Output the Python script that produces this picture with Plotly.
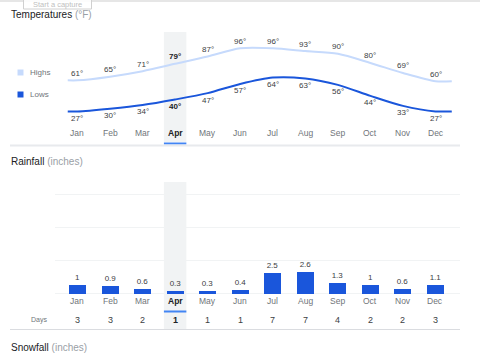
import plotly.graph_objects as go

months = ["Jan", "Feb", "Mar", "Apr", "May", "Jun", "Jul", "Aug", "Sep", "Oct", "Nov", "Dec"]
highs = [61, 65, 71, 79, 87, 96, 96, 93, 90, 80, 69, 60]
lows = [27, 30, 34, 40, 47, 57, 64, 63, 56, 44, 33, 27]
rain = [1, 0.9, 0.6, 0.3, 0.3, 0.4, 2.5, 2.6, 1.3, 1, 0.6, 1.1]
rain_labels = ["1", "0.9", "0.6", "0.3", "0.3", "0.4", "2.5", "2.6", "1.3", "1", "0.6", "1.1"]
rain_days = [3, 3, 2, 1, 1, 1, 7, 7, 4, 2, 2, 3]
selected = "Apr"
rain_grid = [0, 4, 8, 12]

W, H = 480, 360
FONT = "Arial, Liberation Sans, sans-serif"
HIGH_C = "#c6dafc"
LOW_C = "#1a56db"
BAR_C = "#1a56db"
GRAY = "#70757a"
DARK = "#3c4043"

def px(x):
    return x / W

def py(y):
    return 1 - y / H

idx = list(range(len(months)))
sel = months.index(selected)

# flat extensions at both ends of the temperature lines
lx = [-0.3] + idx + [11.5]
hy = [highs[0]] + highs + [highs[-1]]
ly = [lows[0]] + lows + [lows[-1]]

fig = go.Figure()
fig.add_trace(go.Scatter(x=lx, y=hy, mode="lines", line=dict(color=HIGH_C, width=2, shape="spline", smoothing=0.8),
                         xaxis="x", yaxis="y", hoverinfo="skip", showlegend=False))
fig.add_trace(go.Scatter(x=lx, y=ly, mode="lines", line=dict(color=LOW_C, width=2, shape="spline", smoothing=0.8),
                         xaxis="x", yaxis="y", hoverinfo="skip", showlegend=False))
fig.add_trace(go.Bar(x=idx, y=rain, width=0.52, marker=dict(color=BAR_C, line=dict(width=0)),
                     text=rain_labels, textposition="outside", cliponaxis=False,
                     textfont=dict(size=8, color=DARK, family=FONT),
                     xaxis="x2", yaxis="y2", hoverinfo="skip", showlegend=False))

def T(txt, size, color, **kw):
    d = dict(text=txt, showarrow=False, font=dict(size=size, color=color, family=FONT),
             xanchor="center", yanchor="middle")
    d.update(kw)
    return d

ann = []
for i, m in enumerate(months):
    b = i == sel
    c_val = "#202124" if b else DARK
    ann.append(T(f"<b>{highs[i]}°</b>" if b else f"{highs[i]}°", 8, c_val, x=i, y=highs[i], xref="x", yref="y", yshift=7))
    ann.append(T(f"<b>{lows[i]}°</b>" if b else f"{lows[i]}°", 8, c_val, x=i, y=lows[i], xref="x", yref="y", yshift=-7))
    ann.append(T(f"<b>{m}</b>" if b else m, 8.5, "#202124" if b else GRAY, x=i, y=py(133), xref="x", yref="paper"))
    ann.append(T(f"<b>{m}</b>" if b else m, 8.5, "#202124" if b else GRAY, x=i, y=py(301), xref="x2", yref="paper"))
    ann.append(T(f"<b>{rain_days[i]}</b>" if b else str(rain_days[i]), 9, "#202124" if b else DARK,
                 x=i, y=py(320), xref="x2", yref="paper"))

ann += [
    T("<span style='color:#202124'>Temperatures</span> <span style='color:#9aa0a6'>(°F)</span>", 10, "#202124",
      x=px(9), y=py(15), xref="paper", yref="paper", xanchor="left"),
    T("<span style='color:#202124'>Rainfall</span> <span style='color:#9aa0a6'>(inches)</span>", 10, "#202124",
      x=px(9), y=py(161), xref="paper", yref="paper", xanchor="left"),
    T("<span style='color:#202124'>Snowfall</span> <span style='color:#9aa0a6'>(inches)</span>", 10, "#202124",
      x=px(9), y=py(347), xref="paper", yref="paper", xanchor="left"),
    T("Highs", 8, GRAY, x=px(28), y=py(72.5), xref="paper", yref="paper", xanchor="left"),
    T("Lows", 8, GRAY, x=px(28), y=py(94.5), xref="paper", yref="paper", xanchor="left"),
    T("Days", 7, GRAY, x=px(49), y=py(319.5), xref="paper", yref="paper", xanchor="right"),
    T("Start a capture", 7.5, "#c0c0c0", x=px(57), y=py(4.5), xref="paper", yref="paper"),
]

shapes = [
    # selected month highlight columns
    dict(type="rect", xref="x", yref="paper", x0=sel - 0.345, x1=sel + 0.345, y0=py(142), y1=py(32),
         fillcolor="#f1f3f4", line=dict(width=0), layer="below"),
    dict(type="rect", xref="x", yref="paper", x0=sel - 0.345, x1=sel + 0.345, y0=py(329), y1=py(182),
         fillcolor="#f1f3f4", line=dict(width=0), layer="below"),
    dict(type="rect", xref="x", yref="paper", x0=sel - 0.345, x1=sel + 0.345, y0=py(144.5), y1=py(142.5),
         fillcolor="#4285f4", line=dict(width=0)),
    dict(type="rect", xref="x", yref="paper", x0=sel - 0.345, x1=sel + 0.345, y0=py(312.5), y1=py(310.5),
         fillcolor="#4285f4", line=dict(width=0)),
    # separators
    dict(type="line", xref="paper", yref="paper", x0=px(10), x1=px(460), y0=py(145.5), y1=py(145.5),
         line=dict(color="#e8eaed", width=2)),
    dict(type="line", xref="paper", yref="paper", x0=px(10), x1=px(460), y0=py(329.5), y1=py(329.5),
         line=dict(color="#dadce0", width=1)),
    # legend swatches
    dict(type="rect", xref="paper", yref="paper", x0=px(17.5), x1=px(23.5), y0=py(75.5), y1=py(69.5),
         fillcolor=HIGH_C, line=dict(width=0)),
    dict(type="rect", xref="paper", yref="paper", x0=px(17.5), x1=px(23.5), y0=py(97.5), y1=py(91.5),
         fillcolor=LOW_C, line=dict(width=0)),
    # top shadow and capture button
    dict(type="rect", xref="paper", yref="paper", x0=0, x1=1, y0=py(2), y1=1,
         fillcolor="#e6e6e6", line=dict(width=0)),
    dict(type="rect", xref="paper", yref="paper", x0=px(23.5), x1=px(91.5), y0=py(9), y1=py(-10),
         fillcolor="rgba(255,255,255,0.85)", line=dict(color="#d0d0d0", width=1)),
]

fig.update_layout(
    width=W, height=H, margin=dict(l=0, r=0, t=0, b=0),
    paper_bgcolor="white", plot_bgcolor="rgba(0,0,0,0)",
    font=dict(family=FONT),
    xaxis=dict(domain=[0, 1], range=[-2.381, 12.367], visible=False, fixedrange=True),
    yaxis=dict(domain=[0, 1], range=[-245.0, 148.85], visible=False, fixedrange=True),
    xaxis2=dict(domain=[55 / W, 460 / W], range=[-0.691, 11.753], anchor="y2", showticklabels=False,
                showgrid=False, zeroline=False, ticks="", fixedrange=True),
    yaxis2=dict(domain=[0, 1], range=[-8.04, 35.6], anchor="x2", overlaying="y", tickvals=rain_grid,
                showticklabels=False, showgrid=True, gridcolor="#f1f3f4", gridwidth=1,
                zeroline=False, ticks="", fixedrange=True),
    annotations=ann, shapes=shapes, bargap=0, showlegend=False,
)

fig.write_html("out.html", config={"displayModeBar": False},
               post_script="document.body.style.margin='0';document.body.style.padding='0';")
